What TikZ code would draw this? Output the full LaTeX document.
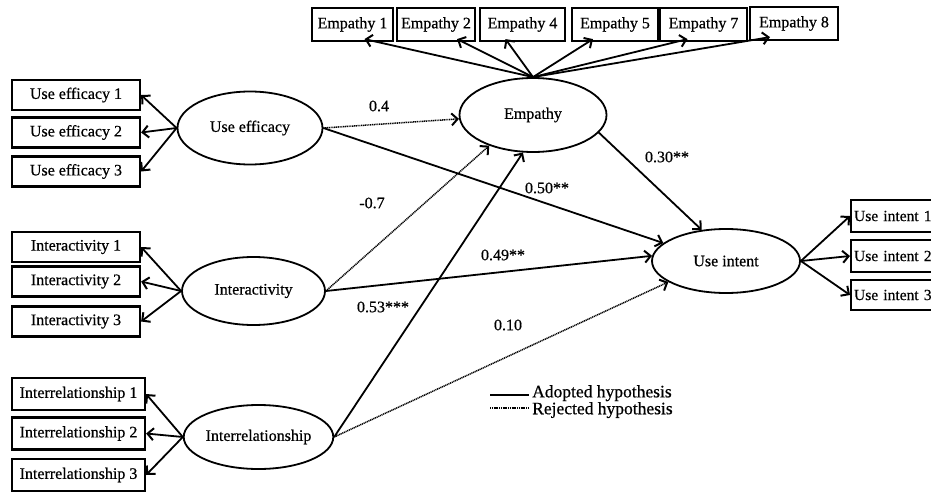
\documentclass[tikz,border=0pt]{standalone}
\usepackage{fontspec}
\setmainfont{Liberation Serif}
\newfontfamily\dkfont[FakeBold=0.6]{Liberation Serif}
\usetikzlibrary{shapes.geometric,arrows.meta}
\newcommand{\fsA}{\dkfont\fontsize{16}{18}\selectfont}
\newcommand{\fsB}{\dkfont\fontsize{15.5}{18}\selectfont}
\newcommand{\fsL}{\dkfont\fontsize{17.5}{13}\selectfont}
\begin{document}
\begin{tikzpicture}[x=1pt,y=-1pt,
  box/.style={draw, line width=2.2pt, minimum height=30pt, inner sep=1pt, font=\fsA},
  uibox/.style={box, minimum width=92pt, anchor=west, inner xsep=2pt, text width=86pt, align=left, font=\fsB},
  lat/.style={ellipse, draw, line width=1.8pt, inner sep=0pt, font=\fsA},
  arr/.style={line width=1.8pt, -{Straight Barb[length=6pt,width=12pt,line width=2pt]}},
  rej/.style={arr, line width=1.5pt, dash pattern=on 1.1pt off 0.7pt},
  lab/.style={font=\fsA, inner sep=0pt},
  leg/.style={font=\fsL, inner sep=0pt, anchor=north west, align=left}]
\useasboundingbox (0,0) rectangle (931,495);
\clip (0,0) rectangle (931,495);
% latent variables
\node[lat, minimum width=145pt, minimum height=73pt] (UE) at (250,128) {Use efficacy};
\node[lat, minimum width=143pt, minimum height=68pt] (IA) at (253.5,291) {Interactivity};
\node[lat, minimum width=147pt, minimum height=64pt] (IR) at (258.5,437) {Interrelationship};
\node[lat, minimum width=147pt, minimum height=74pt] (EM) at (533,115) {Empathy};
\node[lat, minimum width=148pt, minimum height=64pt] (UI) at (726,261) {Use intent};
% indicator boxes
\node[box, minimum width=128pt] (ue1) at (76,95) {Use efficacy 1};
\node[box, minimum width=128pt] (ue2) at (76,132.5) {Use efficacy 2};
\node[box, minimum width=128pt] (ue3) at (76,171.5) {Use efficacy 3};
\node[box, minimum width=128pt] (ia1) at (76,247) {Interactivity 1};
\node[box, minimum width=128pt] (ia2) at (76,281.5) {Interactivity 2};
\node[box, minimum width=128pt] (ia3) at (76,321.5) {Interactivity 3};
\node[box, minimum width=133pt, minimum height=32pt] (ir1) at (78.5,394) {Interrelationship 1};
\node[box, minimum width=133pt, minimum height=32pt] (ir2) at (78.5,433.5) {Interrelationship 2};
\node[box, minimum width=133pt, minimum height=32pt] (ir3) at (78.5,475) {Interrelationship 3};
\node[box, minimum width=81pt, minimum height=33pt] (E1) at (352.5,24.5) {Empathy 1};
\node[box, minimum width=78pt, minimum height=33pt] (E2) at (436,24.5) {Empathy 2};
\node[box, minimum width=85pt, minimum height=33pt] (E4) at (522.5,24.5) {Empathy 4};
\node[box, minimum width=86pt, minimum height=33pt] (E5) at (615,24.5) {Empathy 5};
\node[box, minimum width=87pt, minimum height=33pt] (E7) at (703.5,24.5) {Empathy 7};
\node[box, minimum width=88pt, minimum height=33pt] (E8) at (794,23.5) {Empathy 8};
\node[uibox, minimum height=32pt] (UI1) at (850,216) {Use intent 1};
\node[uibox, minimum height=32pt] (UI2) at (850,256) {Use intent 2};
\node[uibox, minimum height=30pt] (UI3) at (850,295) {Use intent 3};
% measurement arrows
\draw[arr] (UE.west) -- (ue1.east);
\draw[arr] (UE.west) -- (ue2.east);
\draw[arr] (UE.west) -- (ue3.east);
\draw[arr] (IA.west) -- (ia1.east);
\draw[arr] (IA.west) -- (ia2.east);
\draw[arr] (IA.west) -- (ia3.east);
\draw[arr] (IR.west) -- (ir1.east);
\draw[arr] (IR.west) -- (ir2.east);
\draw[arr] (IR.west) -- (ir3.east);
\draw[arr] (EM.north) -- ([xshift=12pt,yshift=3pt]E1.south);
\draw[arr] (EM.north) -- ([xshift=21pt,yshift=3pt]E2.south);
\draw[arr] (EM.north) -- ([xshift=-17pt,yshift=3pt]E4.south);
\draw[arr] (EM.north) -- ([xshift=-22pt,yshift=3pt]E5.south);
\draw[arr] (EM.north) -- ([xshift=-16pt,yshift=3pt]E7.south);
\draw[arr] (EM.north) -- ([xshift=-24pt,yshift=4pt]E8.south);
\draw[arr] (UI.east) -- (UI1.west);
\draw[arr] (UI.east) -- (UI2.west);
\draw[arr] (UI.east) -- (UI3.west);
% structural paths
\draw[rej] (UE.east) -- (EM.183);
\draw[arr] (UE.east) -- (UI.164);
\draw[rej] (IA.east) -- (EM.215);
\draw[arr] (IA.east) -- (UI.176);
\draw[arr] (IR.east) -- (EM.255);
\draw[rej] (IR.east) -- (UI.200);
\draw[arr] (EM.-15) -- (UI.128);
% path labels
\node[lab] (l04) at (379,106) {0.4};
\node[lab] (l050) at (547,188) {0.50**};
\node[lab] (l07) at (372,203) {-0.7};
\node[lab] (l049) at (503,255) {0.49**};
\node[lab] (l053) at (383,307) {0.53***};
\node[lab] (l010) at (508,325) {0.10};
\node[lab] (l030) at (667,157) {0.30**};
% legend
\coordinate (la1) at (490,395);
\coordinate (la2) at (529,395);
\coordinate (lr1) at (490,408);
\coordinate (lr2) at (529,408);
\draw[line width=1.8pt] (la1) -- (la2);
\draw[line width=1.5pt, dash pattern=on 1.1pt off 0.7pt] (lr1) -- (lr2);
\node[leg] (legtext) at (532,385) {Adopted hypothesis\\Rejected hypothesis};
\end{tikzpicture}
\end{document}
